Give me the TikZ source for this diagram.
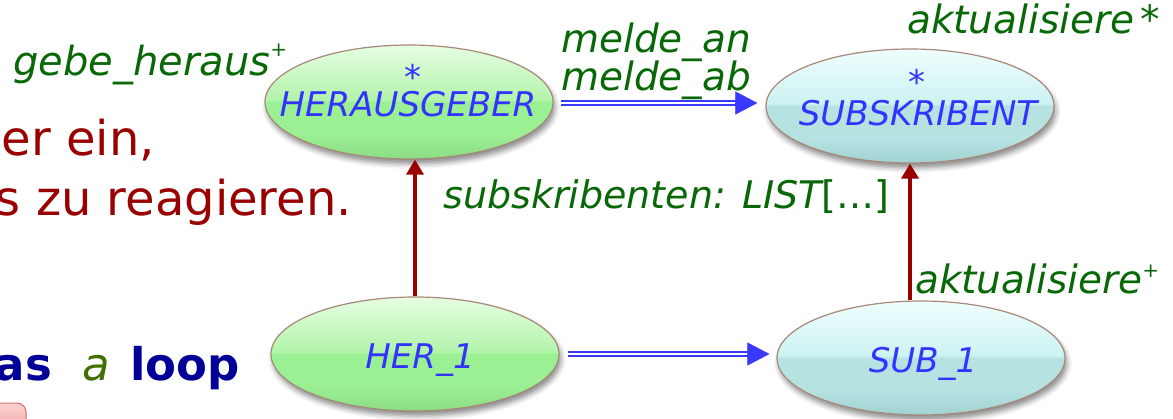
\documentclass[tikz,border=0pt]{standalone}
\usepackage{fontspec}
\setmainfont{DejaVu Sans}
\usetikzlibrary{arrows.meta,calc,shapes.geometric,shadows.blur}

% palette
\definecolor{featgreen}{HTML}{086808}
\definecolor{classblue}{HTML}{3333FF}
\definecolor{linkblue}{HTML}{3838FF}
\definecolor{inheritred}{HTML}{990000}
\definecolor{notered}{HTML}{990000}
\definecolor{loopnavy}{HTML}{000099}
\definecolor{loopgreen}{HTML}{3F7000}
\definecolor{rimbrown}{HTML}{A88878}
% glossy fills: green for publishers, pale cyan for subscribers
\definecolor{gA}{HTML}{8CDC84}
\definecolor{gB}{HTML}{9CF094}
\definecolor{gC}{HTML}{B2F4AA}
\definecolor{gD}{HTML}{E6FDE2}
\definecolor{cA}{HTML}{A2D2D2}
\definecolor{cB}{HTML}{B6E2E2}
\definecolor{cC}{HTML}{CCF2F2}
\definecolor{cD}{HTML}{F0FEFE}
\definecolor{pinkA}{HTML}{EE9090}
\definecolor{pinkB}{HTML}{FAD0D0}
\definecolor{pinkRim}{HTML}{D07070}

\pgfdeclareverticalshading{pubglass}{100bp}{color(0bp)=(gA); color(25bp)=(gA);
  color(36bp)=(gB); color(50bp)=(gB); color(51bp)=(gC); color(75bp)=(gD); color(100bp)=(gD)}
\pgfdeclareverticalshading{subglass}{100bp}{color(0bp)=(cA); color(25bp)=(cA);
  color(36bp)=(cB); color(50bp)=(cB); color(51bp)=(cC); color(75bp)=(cD); color(100bp)=(cD)}

\tikzset{
  classnode/.style={ellipse, minimum width=288pt, minimum height=114pt, inner sep=0pt,
    draw=rimbrown, line width=1.2pt, shade,
    blur shadow={shadow xshift=2pt, shadow yshift=-5pt, shadow blur radius=5pt, shadow opacity=45}},
  pubnode/.style={classnode, shading=pubglass},
  subnode/.style={classnode, shading=subglass},
  cname/.style={text=classblue, font=\fontsize{34}{34}\selectfont\itshape, inner sep=0pt},
  cstar/.style={text=classblue, font=\fontsize{34}{34}\selectfont, inner sep=0pt, anchor=base},
  feat/.style={text=featgreen, font=\fontsize{39}{39}\selectfont\itshape, inner sep=0pt, anchor=base west},
  note/.style={text=notered, font=\fontsize{48}{48}\selectfont, inner sep=0pt, anchor=base east},
  loopword/.style={text=loopnavy, font=\fontsize{45}{45}\selectfont\bfseries, inner sep=0pt},
  inherit/.style={draw=inheritred, line width=3.5pt, -{Triangle[length=15pt,width=17pt]}},
  clientline/.style={draw=linkblue, line width=2.2pt, double=white, double distance=1.8pt},
  clienttip/.style={draw=linkblue, fill=linkblue, line width=0.4pt, -{Triangle[length=22pt,width=23pt]}},
}
\newcommand{\plusmark}[1]{\raisebox{#1}{\fontsize{20}{20}\selectfont\upshape +}}

\begin{document}
\begin{tikzpicture}[x=1pt, y=-1pt]
\useasboundingbox (0,0) rectangle (1173,418);
\clip (0,0) rectangle (1173,418);

% button corner peeking in at the lower left
\shade[top color=pinkB, bottom color=pinkA, draw=pinkRim, line width=1pt, rounded corners=9pt]
  (-30,403) rectangle (26,450);

% running text on the left
\node[note] (noteA) at (155,155) {er ein,};
\node[note] (noteB) at (352,215) {s zu reagieren.};
\node[loopword, anchor=base east] (loopA) at (52,380) {as};
\node[inner sep=0pt, anchor=base west, text=loopgreen, font=\fontsize{45}{45}\selectfont\itshape] (loopB) at (82,380) {a};
\node[loopword, anchor=base west] (loopC) at (130,380) {loop};

% classes and objects
\node[pubnode] (her) at (409,102) {};
\node[subnode] (sub) at (910,106) {};
\node[pubnode] (h1) at (415,354) {};
\node[subnode] (s1) at (921,358) {};

\node[cname, anchor=base] (herL) at (408,116) {HERAUSGEBER};
\node[cstar] (herS) at (413,89) {*};
\node[cname, anchor=base] (subL) at (918,125) {SUBSKRIBENT};
\node[cstar] (subS) at (917,94) {*};
\node[cname, anchor=base] (h1L) at (420,368) {HER\_1};
\node[cname, anchor=base] (s1L) at (923,372) {SUB\_1};

% inheritance
\draw[inherit] (h1.north) -- (h1.north |- her.south);
\draw[inherit] (s1.north -| sub.south) -- (sub.south);

% client links
\coordinate (c1s) at ($(her.east)+(7,1)$);
\coordinate (c1e) at ($(c1s -| sub.west)+(-8,0)$);
\draw[clientline, shorten >=20pt] (c1s) -- (c1e);
\draw[clienttip] ($(c1e)+(-22,0)$) -- (c1e);

\coordinate (c2s) at ($(h1.east)+(8,0)$);
\coordinate (c2e) at ($(c2s -| s1.west)+(-7,0)$);
\draw[clientline, shorten >=20pt] (c2s) -- (c2e);
\draw[clienttip] ($(c2e)+(-22,0)$) -- (c2e);

% features
\node[feat, font=\fontsize{40}{40}\selectfont\itshape] (fPub) at (13,75) {gebe\_heraus\plusmark{19pt}};
\node[feat] (fAn) at (561,52) {melde\_an};
\node[feat] (fAb) at (561,90) {melde\_ab};
\node[feat] (fUpd) at (907,33) {aktualisiere\,\upshape *};
\node[feat, font=\fontsize{38}{38}\selectfont\itshape] (fList) at (443,208) {subskribenten: LIST\upshape[…]};
\node[feat] (fUpdI) at (915,293) {aktualisiere\plusmark{16pt}};
\end{tikzpicture}
\end{document}
